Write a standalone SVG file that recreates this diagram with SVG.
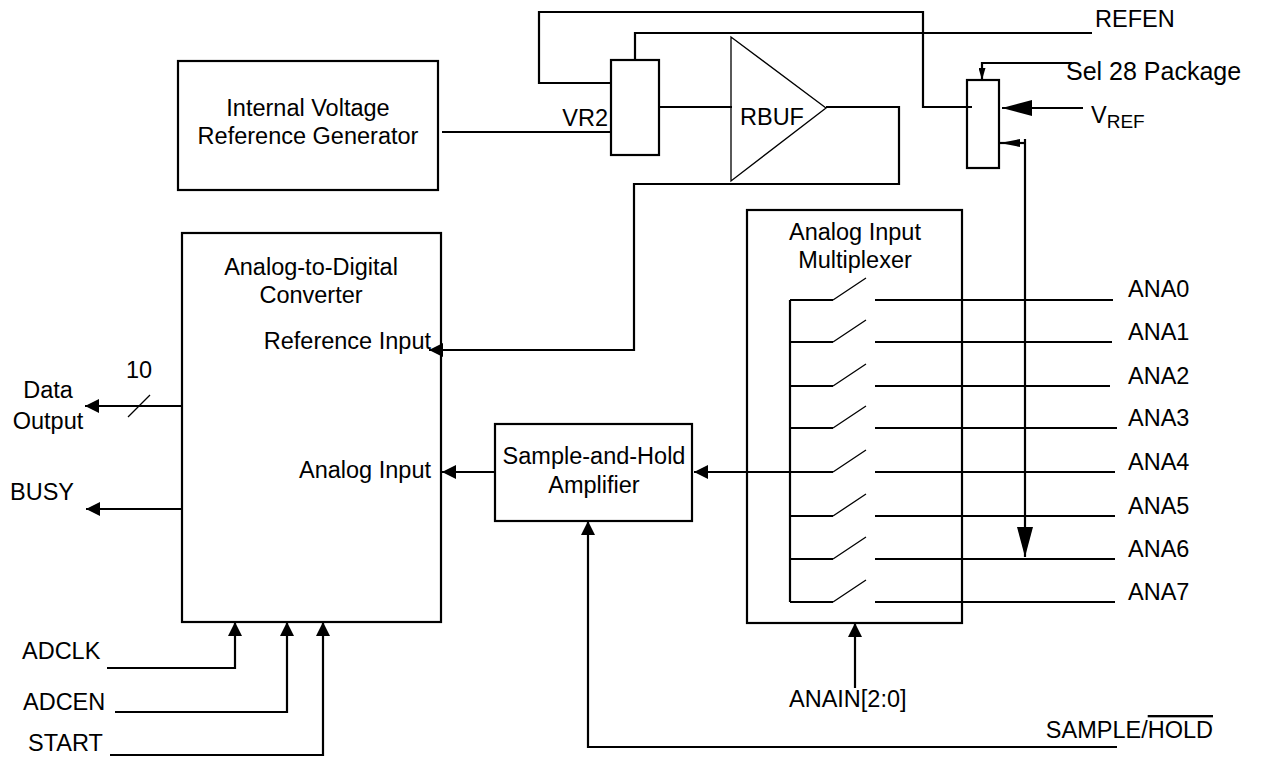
<svg xmlns="http://www.w3.org/2000/svg" width="1261" height="759" viewBox="0 0 1261 759">
<style>
.ln{fill:none;stroke:#000;stroke-width:2.2}
.thin{fill:none;stroke:#000;stroke-width:1.3}
.box{fill:none;stroke:#000;stroke-width:2.2}
text{font-family:"Liberation Sans",Arial,sans-serif;font-size:23.5px;fill:#000}
.mid{text-anchor:middle}
.end{text-anchor:end}
</style>
<defs>
<marker id="arr" viewBox="0 0 14 14" refX="14" refY="7" markerWidth="14" markerHeight="14" markerUnits="userSpaceOnUse" orient="auto"><path d="M0,0 L14,7 L0,14 z" fill="#000"/></marker>
<marker id="arrBig" viewBox="0 0 30 16" refX="30" refY="8" markerWidth="30" markerHeight="16" markerUnits="userSpaceOnUse" orient="auto"><path d="M0,0 L30,8 L0,16 z" fill="#000"/></marker>
<marker id="arrMid" viewBox="0 0 20 8" refX="20" refY="4" markerWidth="20" markerHeight="8" markerUnits="userSpaceOnUse" orient="auto"><path d="M0,0 L20,4 L0,8 z" fill="#000"/></marker>
<marker id="arrSm" viewBox="0 0 12 7" refX="12" refY="3.5" markerWidth="12" markerHeight="7" markerUnits="userSpaceOnUse" orient="auto"><path d="M0,0 L12,3.5 L0,7 z" fill="#000"/></marker>
</defs>
<rect width="1261" height="759" fill="#fff"/>

<g id="connectors">
<path class="ln" d="M442,132 H611"/>
<path class="ln" d="M659,107 H732"/>
<path class="ln" d="M826,107 H899 V184 H634 V350 H429" marker-end="url(#arr)"/>
<path class="ln" d="M611,83 H539 V12 H923 V107 H972"/>
<path class="ln" d="M635,60 V33 H1092"/>
<path class="ln" d="M1072,63 H982 V80" marker-end="url(#arrSm)"/>
<path class="ln" d="M1083,108 H1002" marker-end="url(#arrBig)"/>
<path class="ln" d="M1025,143 H1000" marker-end="url(#arrMid)"/>
<path class="ln" d="M1025,139 V557" marker-end="url(#arrBig)"/>
<path class="ln" d="M495,472 H442" marker-end="url(#arr)"/>
<path class="ln" d="M790,472 H694" marker-end="url(#arr)"/>
<path class="ln" d="M855,688 V623" marker-end="url(#arr)"/>
<path class="ln" d="M1117,747 H588 V521" marker-end="url(#arr)"/>
<path class="ln" d="M107,668 H235 V622" marker-end="url(#arr)"/>
<path class="ln" d="M115,712 H287 V622" marker-end="url(#arr)"/>
<path class="ln" d="M110,755 H323 V622" marker-end="url(#arr)"/>
<path class="ln" d="M182,406 H85" marker-end="url(#arr)"/>
<path class="thin" d="M128,417 L150,395"/>
<path class="ln" d="M183,509 H86" marker-end="url(#arr)"/>
<path class="ln" d="M875,300 H1113"/>
<path class="ln" d="M875,342 H1112"/>
<path class="ln" d="M875,386 H1110"/>
<path class="ln" d="M875,428 H1117"/>
<path class="ln" d="M875,472 H1115"/>
<path class="ln" d="M875,516 H1115"/>
<path class="ln" d="M875,559 H1115"/>
<path class="ln" d="M875,602 H1115"/>
</g>

<g id="ivrg">
<rect class="box" x="178" y="61" width="260" height="129"/>
<text class="mid" x="308" y="116">Internal Voltage</text>
<text class="mid" x="308" y="144">Reference Generator</text>
</g>

<g id="vr2">
<rect class="box" x="611" y="60" width="48" height="95"/>
<text class="end" x="608" y="126">VR2</text>
</g>

<g id="rbuf">
<polygon class="thin" points="731,37 731,181 826,108"/>
<text x="740" y="125">RBUF</text>
</g>

<g id="refsel">
<rect class="box" x="967" y="80" width="32" height="88"/>
</g>

<g id="adc">
<rect class="box" x="182" y="233" width="259" height="389"/>
<text class="mid" x="311" y="275">Analog-to-Digital</text>
<text class="mid" x="311" y="303">Converter</text>
<text class="end" x="431" y="349">Reference Input</text>
<text class="end" x="431" y="478">Analog Input</text>
</g>

<g id="sha">
<rect class="box" x="495" y="424" width="197" height="97"/>
<text class="mid" x="594" y="464">Sample-and-Hold</text>
<text class="mid" x="594" y="493">Amplifier</text>
</g>

<g id="mux">
<rect class="box" x="747" y="210" width="215" height="413"/>
<text class="mid" x="855" y="240">Analog Input</text>
<text class="mid" x="855" y="268">Multiplexer</text>
<path class="ln" d="M790,300 V602"/>
<path class="ln" d="M790,300 H833 M790,342 H833 M790,386 H833 M790,428 H833 M790,472 H833 M790,516 H833 M790,559 H833 M790,602 H833"/>
<path class="thin" d="M833,300 L866,278 M833,342 L866,320 M833,386 L866,364 M833,428 L866,406 M833,472 L866,450 M833,516 L866,494 M833,559 L866,537 M833,602 L866,580"/>
</g>

<g id="labels">
<text x="1095" y="27">REFEN</text>
<text x="1066" y="80" style="font-size:25px">Sel 28 Package</text>
<text x="1091" y="123">V<tspan font-size="19" dy="5">REF</tspan></text>
<text x="1128" y="297">ANA0</text>
<text x="1128" y="340">ANA1</text>
<text x="1128" y="384">ANA2</text>
<text x="1128" y="426">ANA3</text>
<text x="1128" y="470">ANA4</text>
<text x="1128" y="514">ANA5</text>
<text x="1128" y="557">ANA6</text>
<text x="1128" y="600">ANA7</text>
<text x="789" y="707">ANAIN[2:0]</text>
<text class="end" x="1213" y="738">SAMPLE/<tspan style="text-decoration:overline">HOLD</tspan></text>
<text x="126" y="378">10</text>
<text class="mid" x="48" y="398">Data</text>
<text class="mid" x="48" y="429">Output</text>
<text x="10" y="500">BUSY</text>
<text x="22" y="659">ADCLK</text>
<text x="23" y="710">ADCEN</text>
<text x="28" y="751">START</text>
</g>
</svg>
